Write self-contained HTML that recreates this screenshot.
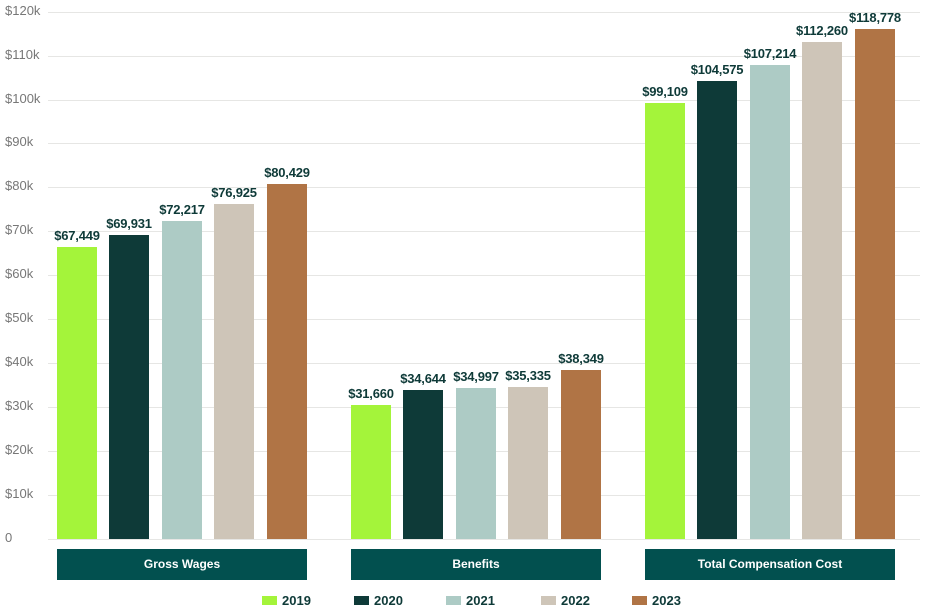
<!DOCTYPE html>
<html><head><meta charset="utf-8"><style>
body{margin:0;width:945px;height:615px;background:#fff;position:relative;overflow:hidden;font-family:"Liberation Sans",Arial,sans-serif}
.g{position:absolute;left:48px;width:872px;height:1px;background:#e6e6e4}
.yl{position:absolute;left:5px;font-size:13px;color:#777;line-height:14px}
.b{position:absolute;width:40px}
.v{position:absolute;width:70px;text-align:center;font-size:13px;font-weight:bold;color:#0e3a38;letter-spacing:-0.2px}
.c{position:absolute;top:549px;height:31px;width:250px;background:#02504f;color:#fff;font-size:12px;font-weight:bold;text-align:center;line-height:31px}
.ls{position:absolute;top:596px;width:15px;height:9px}
.lt{position:absolute;top:593px;font-size:13px;color:#0e3a38;font-weight:bold}
</style></head><body>
<div id="r"></div>
<script>
(function(){
var h='';
var z=538.5,k=4.39;
for(var i=0;i<=12;i++){var y=z-i*10*k;h+='<div class="g" style="top:'+Math.round(y)+'px"></div>';
h+='<div class="yl" style="top:'+Math.round(y-8)+'px">'+(i==0?'0':'$'+(i*10)+'k')+'</div>';}
var cols=['#a4f43a','#0e3a38','#adcbc5','#cec5b8','#b07445'];
var data=[[67449,69931,72217,76925,80429],[31660,34644,34997,35335,38349],[99109,104575,107214,112260,118778]];
var hts=[[66400,69200,72400,76300,80700],[30500,33800,34300,34600,38300],[99100,104300,107900,113100,116000]];
var starts=[57,351,645],off=[0,52,105,157,210];
var names=['Gross Wages','Benefits','Total Compensation Cost'];
for(var g=0;g<3;g++){for(var j=0;j<5;j++){var v=data[g][j];var vv=hts[g][j];
var ty=Math.round(z-vv/1000*k);var x=starts[g]+off[j];
h+='<div class="b" style="left:'+x+'px;top:'+ty+'px;height:'+(539-ty)+'px;background:'+cols[j]+'"></div>';
h+='<div class="v" style="left:'+(x-15)+'px;top:'+(ty-19)+'px">$'+v.toLocaleString('en-US')+'</div>';}
h+='<div class="c" style="left:'+starts[g]+'px">'+names[g]+'</div>';}
var lx=[262,354,446,541,632];
for(var j=0;j<5;j++){h+='<div class="ls" style="left:'+lx[j]+'px;background:'+cols[j]+'"></div><div class="lt" style="left:'+(lx[j]+20)+'px">'+(2019+j)+'</div>';}
document.getElementById('r').innerHTML=h;
})();
</script>
</body></html>
